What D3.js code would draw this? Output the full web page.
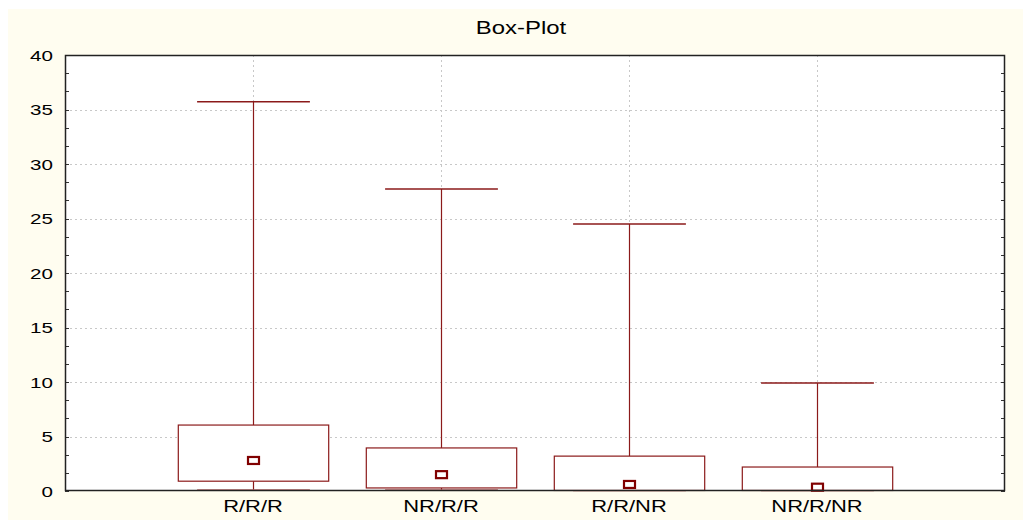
<!DOCTYPE html>
<html><head><meta charset="utf-8">
<script src="https://cdn.jsdelivr.net/npm/d3@7"></script>
<style>body{margin:0;background:#fff}svg{display:block}</style>
</head><body>
<script>
const categories = ["R/R/R","NR/R/R","R/R/NR","NR/R/NR"];
const whiskerLow  = [0.1, 0.1, 0.05, 0.05];
const boxLow      = [0.9, 0.28, 0.05, 0.05];
const medians     = [2.8, 1.5, 0.6, 0.35];
const boxHigh     = [6.05, 3.95, 3.2, 2.2];
const whiskerHigh = [35.7, 27.7, 24.5, 9.9];
const yTicks = [0,5,10,15,20,25,30,35,40];
const title = "Box-Plot";

const W=1023,H=520;
const m={l:65,t:55,r:1005,b:491};
const svg=d3.select("body").append("svg").attr("width",W).attr("height",H);
svg.append("rect").attr("x",8).attr("y",9).attr("width",W-8).attr("height",H-9).attr("fill","#fffdf0");
svg.append("rect").attr("x",m.l).attr("y",m.t).attr("width",m.r-m.l).attr("height",m.b-m.t).attr("fill","#fff");

const x=d3.scaleLinear().domain([0,categories.length+1]).range([m.l,m.r]);
const y=d3.scaleLinear().domain([0,40]).range([m.b,m.t]);
const col="#8b1a1a";
const font="Liberation Sans, Arial, sans-serif";
const SX=1.33;

function stext(px,py,str,size,anchor,base){
  return svg.append("text").attr("transform",`translate(${px},${py}) scale(${SX},1)`)
    .attr("text-anchor",anchor).attr("dominant-baseline",base||"auto")
    .attr("font-family",font).attr("font-size",size).attr("fill","#000").text(str);
}

// grid
const g=svg.append("g");
yTicks.slice(1,-1).forEach(t=>{
  g.append("line").attr("x1",m.l).attr("x2",m.r).attr("y1",Math.round(y(t))+0.5).attr("y2",Math.round(y(t))+0.5)
   .attr("stroke","#c8c8c8").attr("stroke-dasharray","2,3");
});
categories.forEach((c,i)=>{
  g.append("line").attr("y1",m.t).attr("y2",m.b).attr("x1",Math.round(x(i+1))+0.5).attr("x2",Math.round(x(i+1))+0.5)
   .attr("stroke","#c8c8c8").attr("stroke-dasharray","2,3");
});

// y tick labels
yTicks.forEach(t=>{ stext(53, y(t)+5.5, String(t), 15.5, "end"); });
// minor ticks inward
const minor=d3.range(0,40.01,5/3);
minor.forEach(t=>{
  const yy=Math.round(y(t))+0.5;
  svg.append("line").attr("x1",m.l).attr("x2",m.l+4).attr("y1",yy).attr("y2",yy).attr("stroke","#333");
  svg.append("line").attr("x1",m.r-4).attr("x2",m.r).attr("y1",yy).attr("y2",yy).attr("stroke","#333");
});
// x labels
categories.forEach((c,i)=>{ stext(x(i+1), 512, c, 16.5, "middle"); });

// boxes
const bw=(x(1)-x(0))*0.8, cw=(x(1)-x(0))*0.6;
categories.forEach((c,i)=>{
  const cx=Math.round(x(i+1))+0.5;
  const bg=svg.append("g").attr("stroke",col).attr("fill","none").attr("stroke-width",1.2);
  bg.append("line").attr("x1",cx).attr("x2",cx).attr("y1",y(whiskerHigh[i])).attr("y2",y(boxHigh[i]));
  bg.append("line").attr("x1",cx).attr("x2",cx).attr("y1",y(boxLow[i])).attr("y2",y(whiskerLow[i]));
  bg.append("line").attr("x1",cx-cw/2).attr("x2",cx+cw/2).attr("y1",y(whiskerHigh[i])).attr("y2",y(whiskerHigh[i])).attr("stroke-width",1.5);
  bg.append("line").attr("x1",cx-cw/2).attr("x2",cx+cw/2).attr("y1",y(whiskerLow[i])).attr("y2",y(whiskerLow[i])).attr("stroke-width",1.5).attr("stroke","#b86a6a");
  bg.append("rect").attr("x",cx-bw/2).attr("y",y(boxHigh[i])).attr("width",bw).attr("height",y(boxLow[i])-y(boxHigh[i])).attr("fill","#fff");
  bg.append("rect").attr("x",cx-5.5).attr("y",y(medians[i])-3.5).attr("width",11).attr("height",7)
    .attr("fill","#fff").attr("stroke","#800000").attr("stroke-width",2.2);
});

// frame
svg.append("rect").attr("x",m.l+0.5).attr("y",m.t+0.5).attr("width",m.r-m.l-1).attr("height",m.b-m.t-1)
  .attr("fill","none").attr("stroke","#222").attr("stroke-width",1.5);

stext(521, 34, title, 18, "middle");
</script>
</body></html>
